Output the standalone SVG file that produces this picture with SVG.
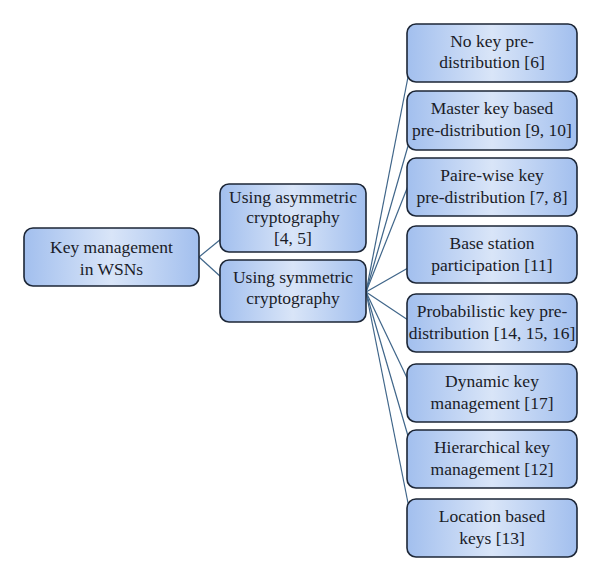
<svg xmlns="http://www.w3.org/2000/svg" width="600" height="582" viewBox="0 0 600 582">
<defs>
<linearGradient id="g" x1="0" y1="0" x2="1" y2="0">
<stop offset="0" stop-color="#a2bfee"/>
<stop offset="0.5" stop-color="#d9e5f8"/>
<stop offset="1" stop-color="#a2bfee"/>
</linearGradient>
<style>
.box{fill:url(#g);stroke:#1c2636;stroke-width:1.6}
.t{font-family:'Liberation Serif','DejaVu Serif',serif;font-size:17.5px;fill:#1a1c28;text-anchor:middle}
.c{stroke:#3f6589;stroke-width:1.2;fill:none}
</style>
</defs>
<rect width="600" height="582" fill="#ffffff"/>
<g id="connectors">
<line class="c" x1="199" y1="257" x2="221" y2="239"/>
<line class="c" x1="199" y1="257" x2="221" y2="277"/>
<line class="c" x1="366" y1="292" x2="408" y2="77"/>
<line class="c" x1="366" y1="292" x2="408" y2="146"/>
<line class="c" x1="366" y1="292" x2="408" y2="186"/>
<line class="c" x1="366" y1="292" x2="408" y2="268"/>
<line class="c" x1="366" y1="292" x2="408" y2="320"/>
<line class="c" x1="366" y1="292" x2="408" y2="380"/>
<line class="c" x1="366" y1="292" x2="408" y2="436"/>
<line class="c" x1="366" y1="292" x2="408" y2="503"/>
</g>
<g id="root">
<rect class="box" x="24" y="228" width="175" height="58" rx="9"/>
<text class="t" x="111.5" y="253">Key management</text>
<text class="t" x="111.5" y="275">in WSNs</text>
</g>
<g id="asym">
<rect class="box" x="220" y="184" width="146" height="68" rx="9"/>
<text class="t" x="293" y="203">Using asymmetric</text>
<text class="t" x="293" y="223">cryptography</text>
<text class="t" x="293" y="244">[4, 5]</text>
</g>
<g id="sym">
<rect class="box" x="220" y="260" width="146" height="62" rx="9"/>
<text class="t" x="293" y="283">Using symmetric</text>
<text class="t" x="293" y="304">cryptography</text>
</g>
<g id="n1">
<rect class="box" x="407" y="24" width="170" height="58" rx="9"/>
<text class="t" x="492" y="47">No key pre-</text>
<text class="t" x="492" y="68">distribution [6]</text>
</g>
<g id="n2">
<rect class="box" x="407" y="91" width="170" height="59" rx="9"/>
<text class="t" x="492" y="114">Master key based</text>
<text class="t" x="492" y="136">pre-distribution [9, 10]</text>
</g>
<g id="n3">
<rect class="box" x="407" y="158" width="170" height="58" rx="9"/>
<text class="t" x="492" y="181">Paire-wise key</text>
<text class="t" x="492" y="203">pre-distribution [7, 8]</text>
</g>
<g id="n4">
<rect class="box" x="407" y="226" width="170" height="57" rx="9"/>
<text class="t" x="492" y="249">Base station</text>
<text class="t" x="492" y="271">participation [11]</text>
</g>
<g id="n5">
<rect class="box" x="407" y="294" width="170" height="58" rx="9"/>
<text class="t" x="492" y="317">Probabilistic key pre-</text>
<text class="t" x="492" y="339">distribution [14, 15, 16]</text>
</g>
<g id="n6">
<rect class="box" x="407" y="364" width="170" height="58" rx="9"/>
<text class="t" x="492" y="387">Dynamic key</text>
<text class="t" x="492" y="409">management [17]</text>
</g>
<g id="n7">
<rect class="box" x="407" y="430" width="170" height="58" rx="9"/>
<text class="t" x="492" y="453">Hierarchical key</text>
<text class="t" x="492" y="475">management [12]</text>
</g>
<g id="n8">
<rect class="box" x="407" y="499" width="170" height="58" rx="9"/>
<text class="t" x="492" y="522">Location based</text>
<text class="t" x="492" y="544">keys [13]</text>
</g>
</svg>
